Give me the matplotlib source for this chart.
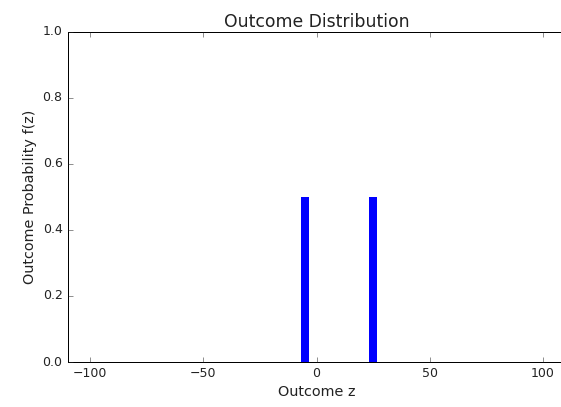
import numpy as np
import matplotlib
matplotlib.use("Agg")
import matplotlib.pyplot as plt

# dane
outcomes = [-5, 25]
probs = [0.5, 0.5]
x_ticks = [-100, -50, 0, 50, 100]
y_ticks = [0.0, 0.2, 0.4, 0.6, 0.8, 1.0]

plt.style.use("classic")
plt.rcParams["font.family"] = "DejaVu Sans"

fig = plt.figure(figsize=(561 / 72, 407 / 72), dpi=72, facecolor="white")
ax = fig.add_axes([67.5 / 561, 45 / 407, 498 / 561, 330.3 / 407])

ax.bar(outcomes, probs, width=3.5, color="blue", edgecolor="blue", linewidth=0, align="center")

ax.set_xlim(-110, 110)
ax.set_ylim(0, 1)
ax.set_xticks(x_ticks)
ax.set_yticks(y_ticks)
ax.tick_params(labelsize=12.5, colors="#222222", length=4.8, pad=5)
ax.set_title("Outcome Distribution", fontsize=17.3, color="#222222")
ax.set_xlabel("Outcome z", fontsize=14.4, color="#222222")
ax.set_ylabel("Outcome Probability f(z)", fontsize=14.4, color="#222222")

fig.savefig("out.png", dpi=72, facecolor="white")
